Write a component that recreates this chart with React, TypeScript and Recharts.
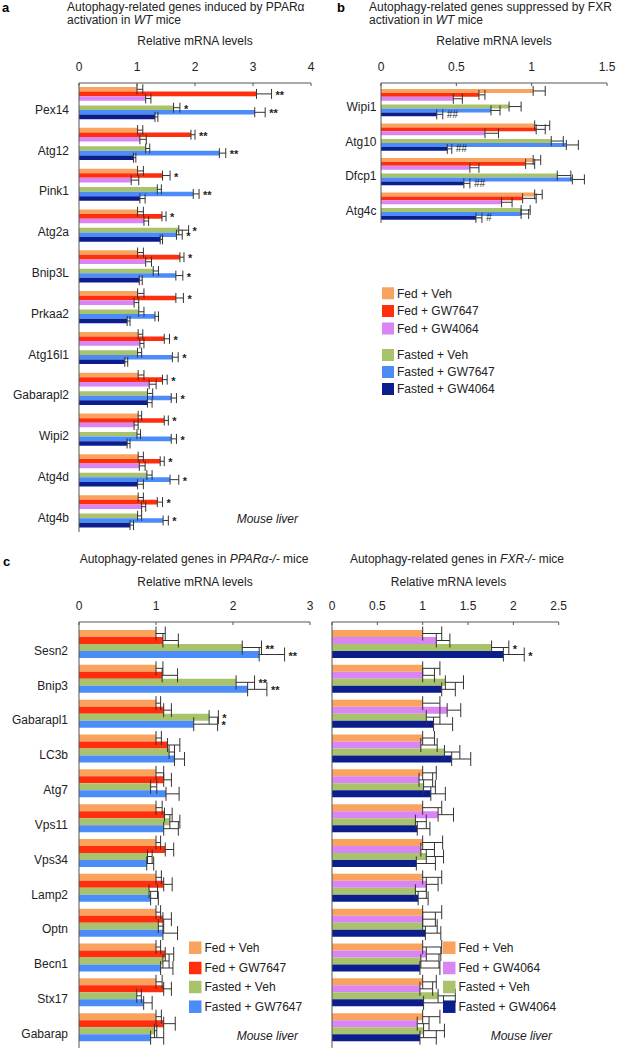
import React from 'react';
import { BarChart, Bar, XAxis, YAxis, ErrorBar, LabelList } from 'recharts';

const FONT = '"Liberation Sans", Arial, Helvetica, sans-serif';
const INK = '#222';
const FRAME = '#555';

const COLORS = {
  fedVeh: '#FAA35E',
  fedGW7647: '#FF2E0C',
  fedGW4064: '#D985F3',
  fastedVeh: '#A8C36B',
  fastedGW7647: '#4B8CF8',
  fastedGW4064: '#0C1D8E',
};

// ---------- Panel a ----------
const genesA = ['Pex14', 'Atg12', 'Pink1', 'Atg2a', 'Bnip3L', 'Prkaa2', 'Atg16l1', 'Gabarapl2', 'Wipi2', 'Atg4d', 'Atg4b'];
const ticksA = [0, 1, 2, 3, 4];
const aFedVeh = [1.0, 1.01, 1.01, 1.01, 1.01, 1.01, 1.02, 1.02, 1.02, 1.02, 1.02];
const aFedVehErr = [0.1, 0.09, 0.1, 0.1, 0.1, 0.11, 0.08, 0.1, 0.06, 0.09, 0.09];
const aFedGW7647 = [3.06, 1.93, 1.44, 1.43, 1.74, 1.67, 1.47, 1.44, 1.47, 1.4, 1.35];
const aFedGW7647Err = [0.26, 0.07, 0.13, 0.07, 0.07, 0.13, 0.09, 0.08, 0.07, 0.07, 0.09];
const aFedGW7647Sig = ['**', '**', '*', '*', '*', '*', '*', '*', '*', '*', '*'];
const aFedGW4064 = [1.15, 1.05, 0.9, 1.12, 1.15, 0.95, 1.05, 1.21, 0.95, 1.04, 1.08];
const aFedGW4064Err = [0.09, 0.11, 0.13, 0.08, 0.1, 0.08, 0.07, 0.12, 0.07, 0.1, 0.07];
const aFastedVeh = [1.63, 1.15, 1.35, 1.72, 1.28, 1.03, 1.01, 1.18, 1.0, 1.17, 1.01];
const aFastedVehErr = [0.11, 0.07, 0.07, 0.17, 0.09, 0.09, 0.07, 0.09, 0.06, 0.09, 0.07];
const aFastedVehSig = ['*', '', '', '*', '', '', '', '', '', '', ''];
const aFastedGW7647 = [3.03, 2.42, 1.97, 1.68, 1.67, 1.31, 1.61, 1.59, 1.59, 1.57, 1.45];
const aFastedGW7647Err = [0.18, 0.11, 0.1, 0.1, 0.12, 0.06, 0.1, 0.09, 0.09, 0.15, 0.09];
const aFastedGW7647Sig = ['**', '**', '**', '*', '*', '', '*', '*', '*', '*', '*'];
const aFastedGW4064 = [1.31, 0.94, 1.05, 1.4, 1.04, 0.83, 0.79, 1.18, 0.83, 1.01, 0.88];
const aFastedGW4064Err = [0.05, 0.04, 0.09, 0.04, 0.05, 0.05, 0.05, 0.08, 0.05, 0.1, 0.06];

// ---------- Panel b ----------
const genesB = ['Wipi1', 'Atg10', 'Dfcp1', 'Atg4c'];
const ticksB = [0, 0.5, 1, 1.5];
const bFedVeh = [1.01, 1.02, 1.01, 1.02];
const bFedVehErr = [0.08, 0.1, 0.05, 0.05];
const bFedGW7647 = [0.65, 1.03, 0.96, 0.94];
const bFedGW7647Err = [0.04, 0.06, 0.06, 0.09];
const bFedGW4064 = [0.48, 0.69, 0.59, 0.8];
const bFedGW4064Err = [0.06, 0.09, 0.06, 0.07];
const bFastedVeh = [0.85, 1.13, 1.17, 0.93];
const bFastedVehErr = [0.08, 0.08, 0.09, 0.06];
const bFastedGW7647 = [0.73, 1.23, 1.27, 0.93];
const bFastedGW7647Err = [0.06, 0.08, 0.08, 0.05];
const bFastedGW4064 = [0.37, 0.44, 0.55, 0.63];
const bFastedGW4064Err = [0.04, 0.03, 0.04, 0.04];
const bFastedGW4064Sig = ['##', '##', '##', '#'];

// ---------- Panel c ----------
const genesC = ['Sesn2', 'Bnip3', 'Gabarapl1', 'LC3b', 'Atg7', 'Vps11', 'Vps34', 'Lamp2', 'Optn', 'Becn1', 'Stx17', 'Gabarap'];
const ticksCL = [0, 1, 2, 3];
const ticksCR = [0, 0.5, 1, 1.5, 2, 2.5];

// PPARα-/-
const cpFedVeh = [1.0, 1.0, 1.0, 1.0, 1.0, 1.0, 1.0, 1.0, 1.0, 1.0, 1.0, 1.0];
const cpFedVehErr = [0.12, 0.09, 0.06, 0.07, 0.1, 0.08, 0.06, 0.07, 0.06, 0.06, 0.08, 0.07];
const cpFedGW7647 = [1.09, 1.08, 1.1, 1.15, 1.1, 1.11, 1.12, 1.1, 1.09, 1.12, 1.1, 1.1];
const cpFedGW7647Err = [0.2, 0.2, 0.1, 0.16, 0.1, 0.1, 0.11, 0.11, 0.11, 0.11, 0.1, 0.15];
const cpFastedVeh = [2.12, 2.04, 1.69, 1.17, 0.93, 1.18, 0.89, 0.91, 1.03, 1.09, 0.75, 0.98];
const cpFastedVehErr = [0.25, 0.24, 0.12, 0.07, 0.08, 0.13, 0.06, 0.11, 0.07, 0.08, 0.06, 0.03];
const cpFastedVehSig = ['**', '**', '*', '', '', '', '', '', '', '', '', ''];
const cpFastedGW7647 = [2.34, 2.19, 1.49, 1.24, 1.13, 1.1, 0.88, 0.93, 1.09, 1.06, 0.84, 0.93];
const cpFastedGW7647Err = [0.33, 0.25, 0.31, 0.13, 0.17, 0.19, 0.09, 0.1, 0.19, 0.16, 0.11, 0.17];
const cpFastedGW7647Sig = ['**', '**', '*', '', '', '', '', '', '', '', '', ''];

// FXR-/-
const cfFedVeh = [1.0, 1.0, 1.0, 1.0, 1.0, 1.0, 1.0, 1.0, 1.0, 1.0, 1.0, 1.0];
const cfFedVehErr = [0.21, 0.19, 0.19, 0.13, 0.15, 0.21, 0.22, 0.21, 0.21, 0.21, 0.15, 0.19];
const cfFedGW4064 = [1.15, 1.0, 1.27, 0.98, 0.96, 1.17, 0.98, 1.04, 1.0, 1.04, 0.97, 0.94];
const cfFedGW4064Err = [0.15, 0.13, 0.15, 0.18, 0.15, 0.17, 0.15, 0.13, 0.14, 0.16, 0.14, 0.13];
const cfFastedVeh = [1.76, 1.25, 1.04, 1.24, 1.01, 0.92, 1.04, 0.92, 1.0, 0.98, 1.17, 1.01];
const cfFastedVehErr = [0.19, 0.2, 0.15, 0.17, 0.13, 0.12, 0.19, 0.12, 0.16, 0.2, 0.19, 0.23];
const cfFastedVehSig = ['*', '', '', '', '', '', '', '', '', '', '', ''];
const cfFastedGW4064 = [1.89, 1.21, 1.12, 1.32, 1.09, 0.94, 0.93, 0.95, 1.03, 0.97, 1.01, 0.97];
const cfFastedGW4064Err = [0.23, 0.15, 0.21, 0.21, 0.16, 0.14, 0.21, 0.11, 0.17, 0.22, 0.22, 0.18];
const cfFastedGW4064Sig = ['*', '', '', '', '', '', '', '', '', '', '', ''];

type Series = { key: string; color: string; values: number[]; errs: number[]; sig?: string[] };

function build(genes: string[], series: Series[]) {
  return genes.map((gene, i) => {
    const row: any = { gene };
    series.forEach((s) => {
      row[s.key] = s.values[i];
      row[s.key + 'Err'] = [0, s.errs[i]];
      if (s.sig) row[s.key + 'Sig'] = s.sig[i];
    });
    return row;
  });
}

const sigContent = (values: number[], errs: number[], italic: boolean) => (props: any) => {
  const vb = props.viewBox || props;
  const { x, y, width, height } = vb;
  const { value, index } = props;
  if (!value || index === undefined) return null;
  const v = values[index];
  const per = width / v;
  const endX = x + width + errs[index] * per;
  return (
    <text
      x={endX + 4}
      y={y + height / 2 + (italic ? 3.5 : 5)}
      fontSize={italic ? 10 : 11}
      fontStyle={italic ? 'italic' : 'normal'}
      fontWeight={italic ? 'normal' : 'bold'}
      fontFamily={FONT}
      fill={INK}
    >
      {value}
    </text>
  );
};

const TopTick = (props: any) => {
  const { x, y, payload } = props;
  return (
    <g>
      <text x={x} y={y - 12.5} textAnchor="middle" fontSize={12} fontFamily={FONT} fill={INK}>
        {payload.value}
      </text>
      <line x1={x} x2={x} y1={y} y2={y + 3} stroke={FRAME} strokeWidth={1} />
    </g>
  );
};

const makeYTick = (dx: number, dy: number) => (props: any) => {
  const { x, y, payload } = props;
  return (
    <text x={x - dx} y={y + dy} dy="0.36em" textAnchor="end" fontSize={12} fontFamily={FONT} fill={INK}>
      {payload.value}
    </text>
  );
};

type PanelProps = {
  left: number;
  top: number;
  width: number;
  height: number;
  margin: { top: number; right: number; bottom: number; left: number };
  yWidth: number;
  domain: [number, number];
  ticks: number[];
  genes: string[];
  series: Series[];
  gapAfter?: number;
  barSize: number;
  padding: { top: number; bottom: number };
  labelDx: number;
  labelDy: number;
  showLabels: boolean;
  errCap: number;
  sigItalic?: boolean;
};

function Panel(p: PanelProps) {
  const data = build(p.genes, p.series);
  const bars: any[] = [];
  p.series.forEach((s, idx) => {
    bars.push(
      <Bar key={s.key} dataKey={s.key} fill={s.color} barSize={p.barSize} isAnimationActive={false}>
        <ErrorBar dataKey={s.key + 'Err'} direction="x" width={p.errCap} stroke="#333" strokeWidth={1} />
        {s.sig ? <LabelList dataKey={s.key + 'Sig'} content={sigContent(s.values, s.errs, !!p.sigItalic)} /> : null}
      </Bar>
    );
    if (p.gapAfter !== undefined && idx === p.gapAfter) {
      bars.push(<Bar key="gap" dataKey="gap" fill="none" barSize={p.barSize} isAnimationActive={false} />);
    }
  });
  return (
    <div style={{ position: 'absolute', left: p.left, top: p.top }}>
      <BarChart layout="vertical" width={p.width} height={p.height} data={data} margin={p.margin} barGap={0}>
        <XAxis
          type="number"
          orientation="top"
          domain={p.domain}
          ticks={p.ticks}
          interval={0}
          height={30}
          axisLine={{ stroke: FRAME }}
          tickLine={false}
          tickSize={0}
          tickMargin={0}
          tick={TopTick}
          allowDataOverflow
        />
        <XAxis
          xAxisId="frame"
          type="number"
          orientation="bottom"
          domain={p.domain}
          height={0}
          tick={false}
          tickLine={false}
          axisLine={{ stroke: FRAME }}
        />
        <YAxis
          type="category"
          dataKey="gene"
          width={p.yWidth}
          padding={p.padding}
          interval={0}
          axisLine={{ stroke: FRAME }}
          tickLine={false}
          tickSize={0}
          tickMargin={0}
          tick={p.showLabels ? makeYTick(p.labelDx, p.labelDy) : false}
        />
        <YAxis
          yAxisId="frame"
          orientation="right"
          type="number"
          domain={[0, 1]}
          width={0}
          tick={false}
          tickLine={false}
          axisLine={{ stroke: FRAME }}
        />
        {bars}
      </BarChart>
    </div>
  );
}

const seriesA: Series[] = [
  { key: 'fedVeh', color: COLORS.fedVeh, values: aFedVeh, errs: aFedVehErr },
  { key: 'fedGW7647', color: COLORS.fedGW7647, values: aFedGW7647, errs: aFedGW7647Err, sig: aFedGW7647Sig },
  { key: 'fedGW4064', color: COLORS.fedGW4064, values: aFedGW4064, errs: aFedGW4064Err },
  { key: 'fastedVeh', color: COLORS.fastedVeh, values: aFastedVeh, errs: aFastedVehErr, sig: aFastedVehSig },
  { key: 'fastedGW7647', color: COLORS.fastedGW7647, values: aFastedGW7647, errs: aFastedGW7647Err, sig: aFastedGW7647Sig },
  { key: 'fastedGW4064', color: COLORS.fastedGW4064, values: aFastedGW4064, errs: aFastedGW4064Err },
];

const seriesB: Series[] = [
  { key: 'fedVeh', color: COLORS.fedVeh, values: bFedVeh, errs: bFedVehErr },
  { key: 'fedGW7647', color: COLORS.fedGW7647, values: bFedGW7647, errs: bFedGW7647Err },
  { key: 'fedGW4064', color: COLORS.fedGW4064, values: bFedGW4064, errs: bFedGW4064Err },
  { key: 'fastedVeh', color: COLORS.fastedVeh, values: bFastedVeh, errs: bFastedVehErr },
  { key: 'fastedGW7647', color: COLORS.fastedGW7647, values: bFastedGW7647, errs: bFastedGW7647Err },
  { key: 'fastedGW4064', color: COLORS.fastedGW4064, values: bFastedGW4064, errs: bFastedGW4064Err, sig: bFastedGW4064Sig },
];

const seriesCL: Series[] = [
  { key: 'fedVeh', color: COLORS.fedVeh, values: cpFedVeh, errs: cpFedVehErr },
  { key: 'fedGW7647', color: COLORS.fedGW7647, values: cpFedGW7647, errs: cpFedGW7647Err },
  { key: 'fastedVeh', color: COLORS.fastedVeh, values: cpFastedVeh, errs: cpFastedVehErr, sig: cpFastedVehSig },
  { key: 'fastedGW7647', color: COLORS.fastedGW7647, values: cpFastedGW7647, errs: cpFastedGW7647Err, sig: cpFastedGW7647Sig },
];

const seriesCR: Series[] = [
  { key: 'fedVeh', color: COLORS.fedVeh, values: cfFedVeh, errs: cfFedVehErr },
  { key: 'fedGW4064', color: COLORS.fedGW4064, values: cfFedGW4064, errs: cfFedGW4064Err },
  { key: 'fastedVeh', color: COLORS.fastedVeh, values: cfFastedVeh, errs: cfFastedVehErr, sig: cfFastedVehSig },
  { key: 'fastedGW4064', color: COLORS.fastedGW4064, values: cfFastedGW4064, errs: cfFastedGW4064Err, sig: cfFastedGW4064Sig },
];

const legendB = [
  { label: 'Fed + Veh', color: COLORS.fedVeh },
  { label: 'Fed + GW7647', color: COLORS.fedGW7647 },
  { label: 'Fed + GW4064', color: COLORS.fedGW4064 },
  { label: 'Fasted + Veh', color: COLORS.fastedVeh },
  { label: 'Fasted + GW7647', color: COLORS.fastedGW7647 },
  { label: 'Fasted + GW4064', color: COLORS.fastedGW4064 },
];
const legendCL = [
  { label: 'Fed + Veh', color: COLORS.fedVeh },
  { label: 'Fed + GW7647', color: COLORS.fedGW7647 },
  { label: 'Fasted + Veh', color: COLORS.fastedVeh },
  { label: 'Fasted + GW7647', color: COLORS.fastedGW7647 },
];
const legendCR = [
  { label: 'Fed + Veh', color: COLORS.fedVeh },
  { label: 'Fed + GW4064', color: COLORS.fedGW4064 },
  { label: 'Fasted + Veh', color: COLORS.fastedVeh },
  { label: 'Fasted + GW4064', color: COLORS.fastedGW4064 },
];

function Legend({ items, x, ys, size }: { items: { label: string; color: string }[]; x: number; ys: number[]; size: number }) {
  return (
    <g>
      {items.map((it, i) => (
        <g key={it.label}>
          <rect x={x} y={ys[i] - size / 2} width={size} height={size} fill={it.color} />
          <text x={x + size + 3} y={ys[i] + 4.3} fontSize={12} fontFamily={FONT} fill={INK}>
            {it.label}
          </text>
        </g>
      ))}
    </g>
  );
}

const txt = { fontSize: 12, fontFamily: FONT, fill: INK } as const;

export default function App() {
  return (
    <div style={{ position: 'absolute', left: 0, top: 0, width: 617, height: 1050, background: '#fff', overflow: 'hidden' }}>
      <Panel
        left={0}
        top={0}
        width={330}
        height={545}
        margin={{ top: 53, right: 19, bottom: 13, left: 0 }}
        yWidth={79}
        domain={[0, 4]}
        ticks={ticksA}
        genes={genesA}
        series={seriesA}
        gapAfter={2}
        barSize={4.6}
        padding={{ top: 0, bottom: 0 }}
        labelDx={10}
        labelDy={6}
        showLabels
        errCap={5}
      />
      <Panel
        left={310}
        top={0}
        width={307}
        height={230}
        margin={{ top: 53, right: 10, bottom: 7, left: 0 }}
        yWidth={71}
        domain={[0, 1.5]}
        ticks={ticksB}
        genes={genesB}
        series={seriesB}
        gapAfter={2}
        barSize={3.9}
        padding={{ top: 2, bottom: 0 }}
        labelDx={4.5}
        labelDy={4.5}
        showLabels
        errCap={5}
        sigItalic
      />
      <Panel
        left={0}
        top={560}
        width={317}
        height={490}
        margin={{ top: 32, right: 7, bottom: 2, left: 0 }}
        yWidth={79}
        domain={[0, 3]}
        ticks={ticksCL}
        genes={genesC}
        series={seriesCL}
        barSize={7}
        padding={{ top: 5, bottom: 3 }}
        labelDx={11}
        labelDy={6}
        showLabels
        errCap={7}
      />
      <Panel
        left={310}
        top={560}
        width={307}
        height={490}
        margin={{ top: 32, right: 58.3, bottom: 2, left: 0 }}
        yWidth={22}
        domain={[0, 2.5]}
        ticks={ticksCR}
        genes={genesC}
        series={seriesCR}
        barSize={7}
        padding={{ top: 5, bottom: 3 }}
        labelDx={0}
        labelDy={0}
        showLabels={false}
        errCap={7}
      />
      <svg width={617} height={1050} style={{ position: 'absolute', left: 0, top: 0, pointerEvents: 'none' }}>
        {/* Panel a */}
        <text x={2} y={12} fontSize={13} fontWeight="bold" fontFamily={FONT} fill="#000">a</text>
        <text x={67} y={11} {...txt}>Autophagy-related genes induced by PPARα</text>
        <text x={67} y={24} {...txt}>
          activation in <tspan fontStyle="italic">WT</tspan> mice
        </text>
        <text x={195} y={45} textAnchor="middle" {...txt}>Relative mRNA levels</text>
        <text x={298} y={523} textAnchor="end" fontStyle="italic" {...txt}>Mouse liver</text>

        {/* Panel b */}
        <text x={337} y={12} fontSize={13} fontWeight="bold" fontFamily={FONT} fill="#000">b</text>
        <text x={369} y={11} {...txt}>Autophagy-related genes suppressed by FXR</text>
        <text x={369} y={24} {...txt}>
          activation in <tspan fontStyle="italic">WT</tspan> mice
        </text>
        <text x={494} y={45} textAnchor="middle" {...txt}>Relative mRNA levels</text>
        <Legend items={legendB} x={382} ys={[293.3, 311, 328.5, 355, 372, 389]} size={12} />

        {/* Panel c */}
        <text x={3} y={566} fontSize={13} fontWeight="bold" fontFamily={FONT} fill="#000">c</text>
        <text x={194} y={563} textAnchor="middle" {...txt}>
          Autophagy-related genes in <tspan fontStyle="italic">PPARα-/-</tspan> mice
        </text>
        <text x={457} y={563} textAnchor="middle" {...txt}>
          Autophagy-related genes in <tspan fontStyle="italic">FXR-/-</tspan> mice
        </text>
        <text x={195} y={586} textAnchor="middle" {...txt}>Relative mRNA levels</text>
        <text x={448.5} y={586} textAnchor="middle" {...txt}>Relative mRNA levels</text>
        <Legend items={legendCL} x={189} ys={[947.7, 968, 987, 1006.7]} size={12.5} />
        <Legend items={legendCR} x={443} ys={[947.7, 968, 987, 1006.7]} size={12.5} />
        <text x={298} y={1040} textAnchor="end" fontStyle="italic" {...txt}>Mouse liver</text>
        <text x={552} y={1040} textAnchor="end" fontStyle="italic" {...txt}>Mouse liver</text>
      </svg>
    </div>
  );
}
